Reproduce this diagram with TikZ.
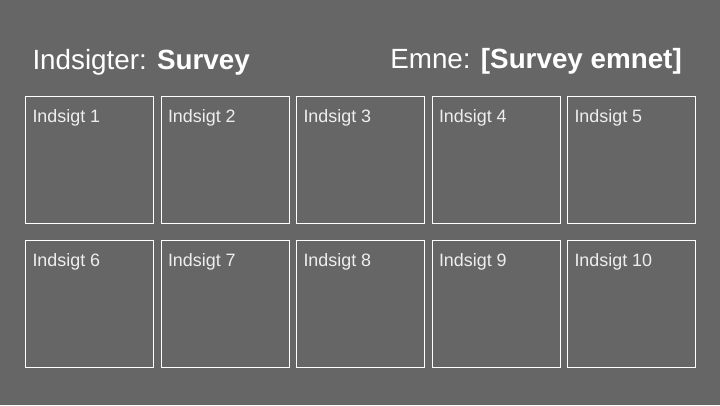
\documentclass[tikz,border=0pt]{standalone}
\usepackage{fontspec}
\setmainfont{Liberation Sans}
\definecolor{slidebg}{HTML}{666666}
\definecolor{labeltxt}{HTML}{EEEEEE}
\tikzset{
	insightbox/.style = {draw = white , line width = 0.9pt , minimum width = 128pt ,
		minimum height = 127pt , inner sep = 0pt , anchor = north west},
	insightlabel/.style = {text = labeltxt , font = \fontsize{17.9}{20}\selectfont ,
		inner sep = 0pt , anchor = base west},
	slidetitle/.style = {text = white , font = \fontsize{27.8}{32}\selectfont , inner sep = 0pt}
}
\begin{document}
\begin{tikzpicture}[x = 1pt , y = -1pt]
				\fill[slidebg] (0,0) rectangle (720,405);
				\useasboundingbox (0,0) rectangle (720,405);
				\node[slidetitle , anchor = base west] (titleleft) at (32.3,69)
					{Indsigter: \textbf{Survey}};
				\node[slidetitle , anchor = base east] (titleright) at (682,68.5)
					{Emne: \textbf{[Survey emnet]}};
				\foreach \col in {0,...,4} {
					\foreach \row in {0,1} {
						\pgfmathtruncatemacro{\idx}{\row*5 + \col + 1}
						\node[insightbox] (box\idx) at ({25.3 + 135.5*\col},{96.3 + 144*\row}) {};
						\node[insightlabel] (lbl\idx) at ([xshift = 7pt , yshift = -26pt] box\idx.north west)
							{Indsigt \idx};
					}
				}
			\end{tikzpicture}
\end{document}
